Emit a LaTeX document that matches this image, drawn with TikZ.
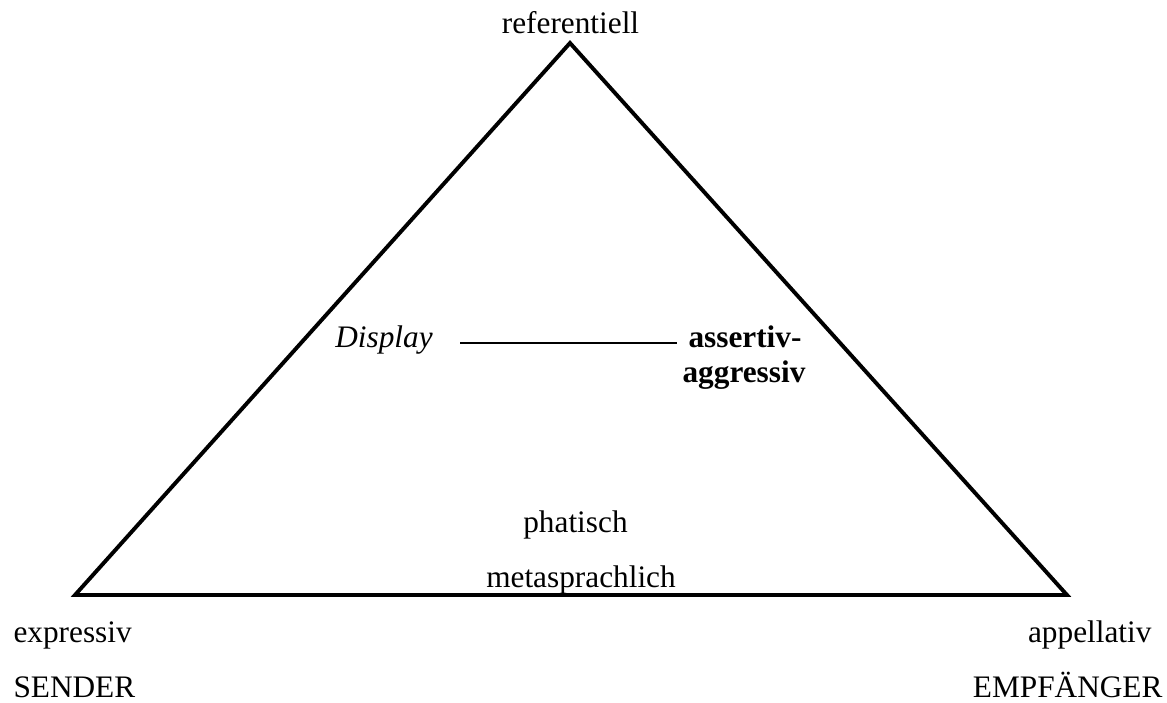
\documentclass[tikz,border=0pt]{standalone}
\usepackage{fontspec}
\setmainfont{Liberation Serif}
\usepackage{tikz}
\usetikzlibrary{positioning}

\tikzset{
	side/.style={line width=1.5pt, line join=miter},
	link/.style={line width=0.8pt},
	lbl/.style={inner sep=0pt, font=\fontsize{12}{14}\selectfont},
}

\begin{document}
\begin{tikzpicture}[x=0.3834pt, y=-0.3834pt]
			\useasboundingbox (0,0) rectangle (1167,702);
			% corners
			\coordinate (top) at (570,43);
			\coordinate (left) at (75,595);
			\coordinate (right) at (1067,595);
			% triangle
			\draw[side] (top) -- (right) -- (left) -- cycle;
			% corner labels
			\node[lbl, anchor=base] (ref) at (570.5,33) {referentiell};
			\node[lbl, anchor=base west] (expr) at (13,642) {expressiv};
			\node[lbl, anchor=base west] (send) at (13,697) {SENDER};
			\node[lbl, anchor=base east] (appel) at (1152,642) {appellativ};
			\node[lbl, anchor=base east] (empf) at (1163,697) {EMPF\"ANGER};
			% inner labels
			\node[lbl, anchor=base, font=\fontsize{12}{14}\selectfont\itshape] (disp) at (384,347) {Display};
			\node[lbl, anchor=base, font=\fontsize{12}{14}\selectfont\bfseries] (assert) at (745,347) {assertiv-};
			\node[lbl, anchor=base, font=\fontsize{12}{14}\selectfont\bfseries] (aggr) at (744,382) {aggressiv};
			\node[lbl, anchor=base] (phat) at (575.5,532) {phatisch};
			\node[lbl, anchor=base] (meta) at (581,587) {metasprachlich};
			% link
			\coordinate (linkl) at (460,343);
			\coordinate (linkr) at (677,343);
			\draw[link] (linkl) -- (linkr);
		\end{tikzpicture}
\end{document}
